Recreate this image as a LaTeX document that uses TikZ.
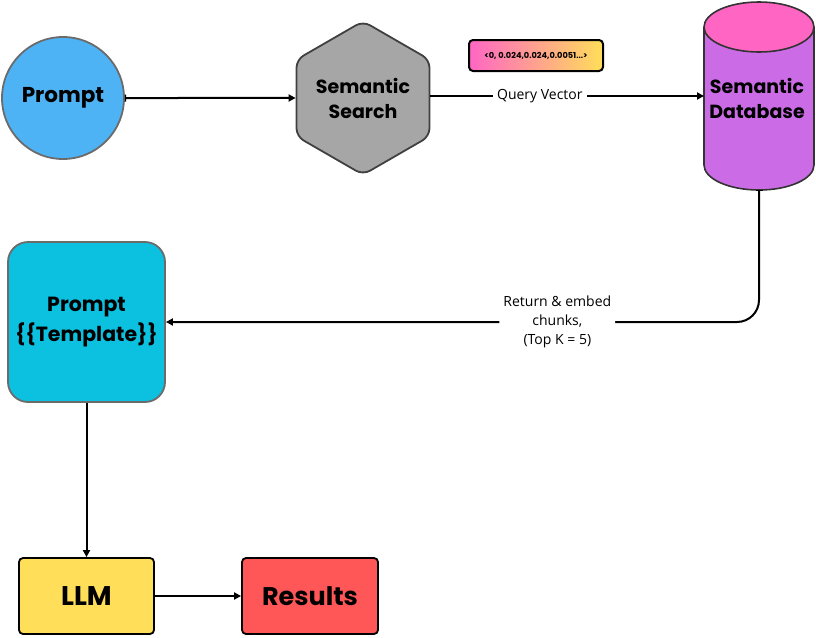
\documentclass[tikz,border=0pt]{standalone}
\usepackage{fontspec}
\setmainfont{Poppins}
\newfontfamily\labelfont{Open Sans}
\usetikzlibrary{arrows.meta,shapes.geometric,shadings}
\definecolor{promptblue}{HTML}{4DB3F5}
\definecolor{hexgray}{HTML}{A6A6A6}
\definecolor{dbpink}{HTML}{FF66C4}
\definecolor{dbpurple}{HTML}{CB6CE6}
\definecolor{tplcyan}{HTML}{0CC0DF}
\definecolor{llmyellow}{HTML}{FFDE59}
\definecolor{resred}{HTML}{FF5757}
\definecolor{rimgray}{HTML}{6B6B6B}
\tikzset{
  title/.style={align=center, text=black},
  flow/.style={line width=2pt, -{Triangle[length=7pt,width=7pt]}},
  teeflow/.style={line width=2pt, {Bar[width=7pt,line width=1.2pt]}-{Triangle[length=7pt,width=7pt]}},
  edgelabel/.style={font=\labelfont\fontsize{14}{19}\selectfont, fill=white, align=center, inner sep=4pt},
}
\begin{document}
\begin{tikzpicture}[x=1pt,y=-1pt]
\useasboundingbox (0,0) rectangle (816,637);

% prompt circle
\node[circle, draw=rimgray, line width=1.8pt, fill=promptblue, minimum size=122pt, inner sep=0pt,
      title, font=\bfseries\fontsize{21.5}{24}\selectfont] (prompt) at (63,98) {Prompt};

% semantic search hexagon
\node[regular polygon, regular polygon sides=6, shape border rotate=30, draw=black!75, line width=1.8pt,
      fill=hexgray, minimum size=151pt, inner sep=0pt, rounded corners=8pt, title,
      font=\bfseries\fontsize{19}{25}\selectfont] (search) at (363,98) {Semantic\\Search};

% semantic database cylinder
\coordinate (dbtop) at (759,27);
\coordinate (dbbot) at (759,190);
\fill[dbpurple] (704,27) -- (704,165) arc[start angle=180, end angle=0, x radius=55, y radius=25]
  -- (814,27) -- cycle;
\draw[black!80, line width=1.6pt] (704,27) -- (704,165) arc[start angle=180, end angle=0, x radius=55, y radius=25]
  -- (814,27);
\draw[black!80, line width=1.6pt, fill=dbpink] (dbtop) ellipse[x radius=55, y radius=25];
\node[title, font=\bfseries\fontsize{19}{25}\selectfont] (db) at (757,98) {Semantic\\Database};
\coordinate (dbin) at (704,96);

% query vector sample
\shade[left color=dbpink, right color=llmyellow, rounded corners=4pt] (469,40) rectangle (603,71);
\draw[black, line width=2pt, rounded corners=4pt] (469,40) rectangle (603,71);
\node[font=\bfseries\fontsize{8.2}{10}\selectfont] (vec) at (536,55.5) {<0, 0.024,0.024,0.0051...>};

% prompt template box
\node[draw=rimgray, line width=1.8pt, fill=tplcyan, rounded corners=20pt, minimum width=157pt,
      minimum height=160pt, title, font=\bfseries\fontsize{20.5}{30}\selectfont] (tpl) at (86.5,322) {Prompt\\\{\{Template\}\}};

% LLM and results
\node[draw=black, line width=1.8pt, fill=llmyellow, rounded corners=4pt, minimum width=135pt,
      minimum height=76pt, title, font=\bfseries\fontsize{27}{30}\selectfont] (llm) at (86.5,596) {LLM};
\node[draw=black, line width=1.8pt, fill=resred, rounded corners=4pt, minimum width=136pt,
      minimum height=76pt, title, font=\bfseries\fontsize{25.5}{30}\selectfont] (res) at (310,596) {Results};

% connectors
\draw[teeflow] (prompt.east) -- (search.west);
\draw[flow] (search.east |- dbin) -- node[edgelabel, pos=0.4] {Query Vector} (dbin);
\draw[line width=2pt, {Bar[width=7pt,line width=1.2pt]}-{Triangle[length=7pt,width=7pt]}, rounded corners=22pt]
  (dbbot) -- (759,322) -- node[edgelabel, pos=0.34] {Return \& embed\\chunks,\\(Top K = 5)} (tpl.east |- 0,322);
\draw[flow] (tpl.south) -- (llm.north);
\draw[flow] (llm.east) -- (res.west);
\end{tikzpicture}
\end{document}
